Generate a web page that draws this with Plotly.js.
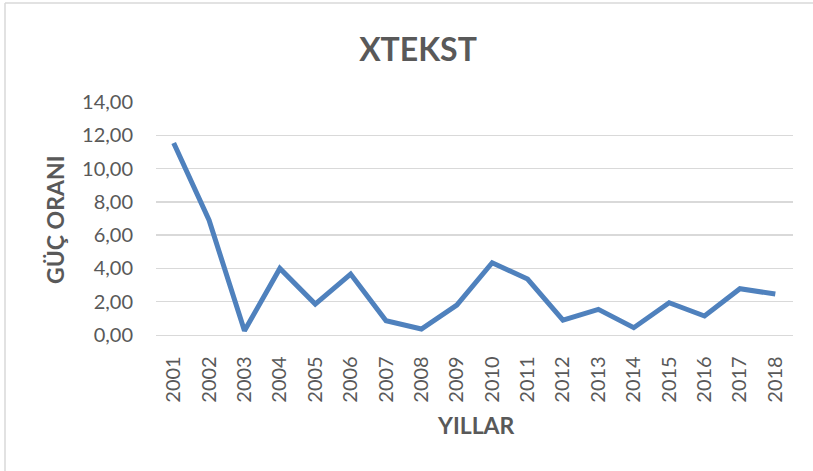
<!DOCTYPE html>
<html>
<head>
<meta charset="utf-8">
<script src="https://cdn.plot.ly/plotly-3.0.1.min.js"></script>
<style>html,body{margin:0;padding:0;background:#fff;}#chart{width:813px;height:471px;}</style>
</head>
<body>
<div id="chart"></div>
<script>
const years = ["2001","2002","2003","2004","2005","2006","2007","2008","2009","2010","2011","2012","2013","2014","2015","2016","2017","2018"];
const gucOrani = [11.54, 6.9, 0.25, 4.0, 1.86, 3.66, 0.86, 0.36, 1.8, 4.34, 3.36, 0.9, 1.54, 0.44, 1.94, 1.14, 2.78, 2.46];
const yTicks = [0, 2, 4, 6, 8, 10, 12, 14];
const chartTitle = "XTEKST";
const xTitle = "YILLAR";
const yTitle = "GÜÇ ORANI";

const txt = '#595959';
const fam = 'Lato, "Open Sans", sans-serif';
const L = 156, R = 793, T = 102, B = 335, W = 813, H = 471;
const px = x => (x - L) / (R - L);
const py = y => (B - y) / (B - T);

Plotly.newPlot('chart', [{
  x: years, y: gucOrani, type: 'scatter', mode: 'lines',
  line: {color: '#4f81bd', width: 5}, hoverinfo: 'skip'
}], {
  width: W, height: H,
  margin: {l: L, r: W - R, t: T, b: H - B, pad: 0},
  paper_bgcolor: '#fff', plot_bgcolor: '#fff',
  separators: ',.',
  showlegend: false,
  font: {family: fam, color: txt},
  title: {text: '<b>' + chartTitle + '</b>', font: {family: fam, size: 32, color: txt},
    x: 418 / W, xanchor: 'center', xref: 'container', y: 1 - 50 / H, yanchor: 'middle', yref: 'container'},
  xaxis: {
    type: 'category', range: [-0.5, years.length - 0.5],
    tickangle: -90, tickfont: {family: fam, size: 20, color: txt},
    ticks: '', ticklabelstandoff: 12,
    showgrid: false, showline: true, linecolor: '#d9d9d9', linewidth: 1.3,
    zeroline: false, fixedrange: true
  },
  yaxis: {
    range: [0, 14], tickvals: yTicks, tickformat: '.2f',
    tickfont: {family: fam, size: 20, color: txt},
    ticks: '', ticklabelstandoff: 22,
    showgrid: true, gridcolor: '#d9d9d9', gridwidth: 1.3,
    zeroline: false, showline: false, fixedrange: true
  },
  annotations: [
    {text: '<b>' + yTitle + '</b>', xref: 'paper', yref: 'paper', x: px(55), y: py(220),
     xanchor: 'center', yanchor: 'middle', textangle: -90, showarrow: false,
     font: {family: fam, size: 23, color: txt}},
    {text: '<b>' + xTitle + '</b>', xref: 'paper', yref: 'paper', x: px(476), y: py(425),
     xanchor: 'center', yanchor: 'middle', showarrow: false,
     font: {family: fam, size: 23, color: txt}}
  ],
  shapes: [
    {type: 'line', xref: 'paper', yref: 'paper', x0: px(5), x1: px(813), y0: py(3), y1: py(3), line: {color: '#d9d9d9', width: 1.5}},
    {type: 'line', xref: 'paper', yref: 'paper', x0: px(5), x1: px(5), y0: py(3), y1: py(471), line: {color: '#d9d9d9', width: 1.5}}
  ]
}, {displayModeBar: false, staticPlot: true});
</script>
</body>
</html>
